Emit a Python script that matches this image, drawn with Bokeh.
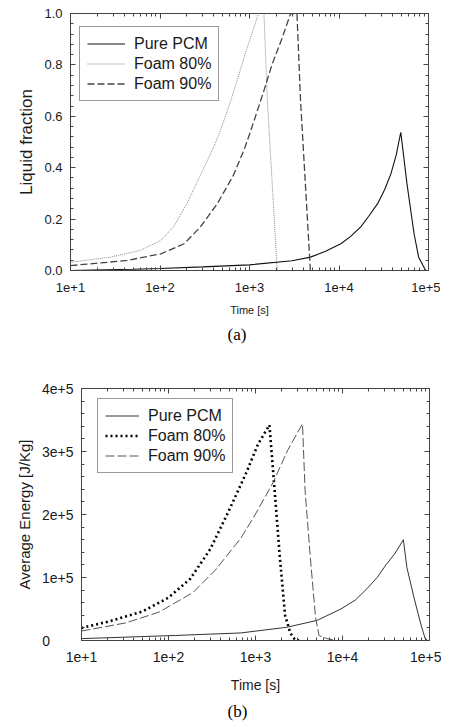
from bokeh.plotting import figure
from bokeh.models import (Range1d, FixedTicker, LogAxis, LinearAxis, Legend,
                          LegendItem, Title, Spacer)
from bokeh.layouts import column, row
from bokeh.embed import file_html
from bokeh.resources import INLINE

# ---------------- data ----------------
x_ticks = [10, 100, 1000, 10000, 100000]
x_tick_labels = ["1e+1", "1e+2", "1e+3", "1e+4", "1e+5"]

a_y_ticks = [0.0, 0.2, 0.4, 0.6, 0.8, 1.0]
a_y_tick_labels = ["0.0", "0.2", "0.4", "0.6", "0.8", "1.0"]
b_y_ticks = [0, 100000, 200000, 300000, 400000]
b_y_tick_labels = ["0", "1e+5", "2e+5", "3e+5", "4e+5"]

series_names = ["Pure PCM", "Foam 80%", "Foam 90%"]

# (a) liquid fraction
a_pcm_t = [10, 18, 50, 100, 300, 1000, 3000, 4800, 7080, 10500, 13500,
           17400, 21400, 27000, 32400, 38000, 43600, 49000, 57500, 69000,
           77600, 93000]
a_pcm_v = [0.0, 0.002, 0.005, 0.008, 0.014, 0.022, 0.038, 0.052, 0.075,
           0.104, 0.133, 0.169, 0.21, 0.26, 0.315, 0.376, 0.45, 0.538,
           0.337, 0.143, 0.052, 0.0]

a_f80_t = [10, 28, 60, 102, 141, 200, 282, 398, 479, 617, 890, 1260, 1450,
           1585, 2040]
a_f80_v = [0.032, 0.052, 0.078, 0.117, 0.169, 0.26, 0.37, 0.48, 0.55,
           0.66, 0.84, 1.0, 1.0, 0.66, 0.0]

a_f90_t = [10, 43, 102, 186, 282, 437, 660, 870, 1020, 1450, 1780, 2290,
           2880, 3390, 3720, 4790]
a_f90_v = [0.019, 0.039, 0.065, 0.104, 0.169, 0.26, 0.37, 0.47, 0.538,
           0.70, 0.80, 0.90, 1.0, 1.0, 0.66, 0.0]

# (b) average energy [J/Kg]
b_pcm_t = [10, 120, 676, 2290, 5130, 9550, 14000, 19050, 25000, 31600,
           40000, 50100, 54950, 66070, 79430, 89130, 95500]
b_pcm_v = [3000, 8000, 12000, 21000, 32000, 50000, 64000, 82000, 100000,
           120000, 138000, 160000, 116000, 69000, 26000, 3000, 0]

b_f80_t = [10, 20.4, 50.1, 100, 178, 302, 490, 776, 1072, 1445, 1660, 1905,
           2188, 2512, 2818, 3162]
b_f80_v = [20000, 30000, 46000, 68000, 98000, 145000, 205000, 265000,
           312000, 342000, 238000, 132000, 40000, 12000, 2000, 0]

b_f90_t = [10, 32.4, 77.6, 190.5, 346.7, 676, 955, 1585, 2344, 3467, 3715,
           4266, 4898, 5370, 6607, 8511]
b_f90_v = [15000, 28000, 45000, 76000, 112000, 162000, 196000, 250000,
           302000, 344000, 238000, 132000, 37000, 8000, 3000, 0]

# ---------------- style ----------------
SANS = "Liberation Sans"
SERIF = "Liberation Serif"
AX = "#444444"
TXT = "#1a1a1a"

x_minor = [d * k for d in x_ticks[:-1] for k in range(2, 10)]


def style_axis(ax, size, hide=False):
    ax.axis_line_color = AX
    ax.major_tick_line_color = AX
    ax.minor_tick_line_color = AX
    ax.major_tick_in = 5
    ax.major_tick_out = 0
    ax.minor_tick_in = 3
    ax.minor_tick_out = 0
    ax.major_label_text_font = SANS
    ax.axis_label_text_font = SANS
    ax.axis_label_text_font_style = "normal"
    ax.axis_label_text_color = TXT
    if hide:
        ax.major_label_text_font_size = "1px"
        ax.major_label_text_color = None
        ax.major_label_standoff = 0
    else:
        ax.major_label_text_font_size = size
        ax.major_label_text_color = TXT


def make_panel(width, height, borders, y_max, y_ticks, y_minor, y_labels,
               tick_size, xlabel, xlabel_size, ylabel, ylabel_size,
               x_std, xl_std, y_std, yl_std, title, title_offset, title_std,
               series, leg_loc, leg_glyph_w):
    left, right, top, bottom = borders
    p = figure(width=width, height=height, x_axis_type="log",
               x_range=Range1d(x_ticks[0], x_ticks[-1]),
               y_range=Range1d(0, y_max),
               output_backend="svg", toolbar_location=None,
               min_border_left=left, min_border_right=right,
               min_border_top=top, min_border_bottom=bottom)
    p.background_fill_color = "white"
    p.border_fill_color = "white"
    p.outline_line_color = AX
    p.xgrid.visible = False
    p.ygrid.visible = False

    xt = FixedTicker(ticks=x_ticks, minor_ticks=x_minor)
    yt = FixedTicker(ticks=y_ticks, minor_ticks=y_minor)

    p.xaxis.ticker = xt
    p.yaxis.ticker = yt
    style_axis(p.xaxis[0], tick_size)
    style_axis(p.yaxis[0], tick_size)
    p.xaxis.major_label_overrides = dict(zip(x_ticks, x_tick_labels))
    p.yaxis.major_label_overrides = dict(zip(y_ticks, y_labels))
    p.xaxis.major_label_standoff = x_std
    p.yaxis.major_label_standoff = y_std
    p.xaxis.axis_label = xlabel
    p.xaxis.axis_label_text_font_size = xlabel_size
    p.xaxis.axis_label_standoff = xl_std
    p.yaxis.axis_label = ylabel
    p.yaxis.axis_label_text_font_size = ylabel_size
    p.yaxis.axis_label_standoff = yl_std

    top_ax = LogAxis(ticker=xt)
    style_axis(top_ax, tick_size, hide=True)
    p.add_layout(top_ax, "above")
    right_ax = LinearAxis(ticker=yt)
    style_axis(right_ax, tick_size, hide=True)
    p.add_layout(right_ax, "right")

    items = []
    for name, (t, v, color, w, dash) in zip(series_names, series):
        r = p.line(t, v, line_color=color, line_width=w, line_dash=dash)
        items.append(LegendItem(label=name, renderers=[r]))
    leg = Legend(items=items, location=leg_loc, margin=0, padding=7,
                 spacing=1, label_height=19, glyph_height=19,
                 glyph_width=leg_glyph_w, label_standoff=9,
                 label_text_font=SANS, label_text_font_size="16px",
                 label_text_color=TXT,
                 border_line_color="#333333", border_line_width=1,
                 background_fill_color="white", background_fill_alpha=1)
    p.add_layout(leg)

    p.add_layout(Title(text=title, align="left", offset=title_offset,
                       text_font=SERIF, text_font_size="17px",
                       text_font_style="normal", text_color="black",
                       standoff=title_std), "below")
    return p


# panel (a): frame 70..428 x 13..270
pa = make_panel(
    440, 350, (70, 12, 13, 80), 1.0, a_y_ticks,
    [i * 0.04 for i in range(26)], a_y_tick_labels, "13px",
    "Time [s]", "11px", "Liquid fraction", "17px",
    12, 9, 8, 5, "(a)", 157, 8,
    [(a_pcm_t, a_pcm_v, "#111111", 1.1, "solid"),
     (a_f80_t, a_f80_v, "#8a8a8a", 1.0, "1 1"),
     (a_f90_t, a_f90_v, "#444444", 1.3, "7 3")],
    (9, 169), 38)

# panel (b): frame 81..429 x 388..640
b_labels = [b_y_tick_labels[0] + "\u2007\u2007\u2007"] + b_y_tick_labels[1:]
pb = make_panel(
    430, 375, (70, 12, 38, 85), 400000, b_y_ticks,
    [i * 20000 for i in range(21)], b_labels, "14px",
    "Time [s]", "14px", "Average Energy [J/Kg]", "15px",
    11, 12, 8, 6, "(b)", 146, 8,
    [(b_pcm_t, b_pcm_v, "#333333", 1.0, "solid"),
     (b_f80_t, b_f80_v, "#000000", 2.6, "2 3"),
     (b_f90_t, b_f90_v, "#555555", 1.0, "9 3")],
    (16, 167), 34)

layout = column(pa, row(Spacer(width=11, height=375), pb, spacing=0),
                spacing=0)
open("out.html", "w").write(file_html(layout, INLINE))
